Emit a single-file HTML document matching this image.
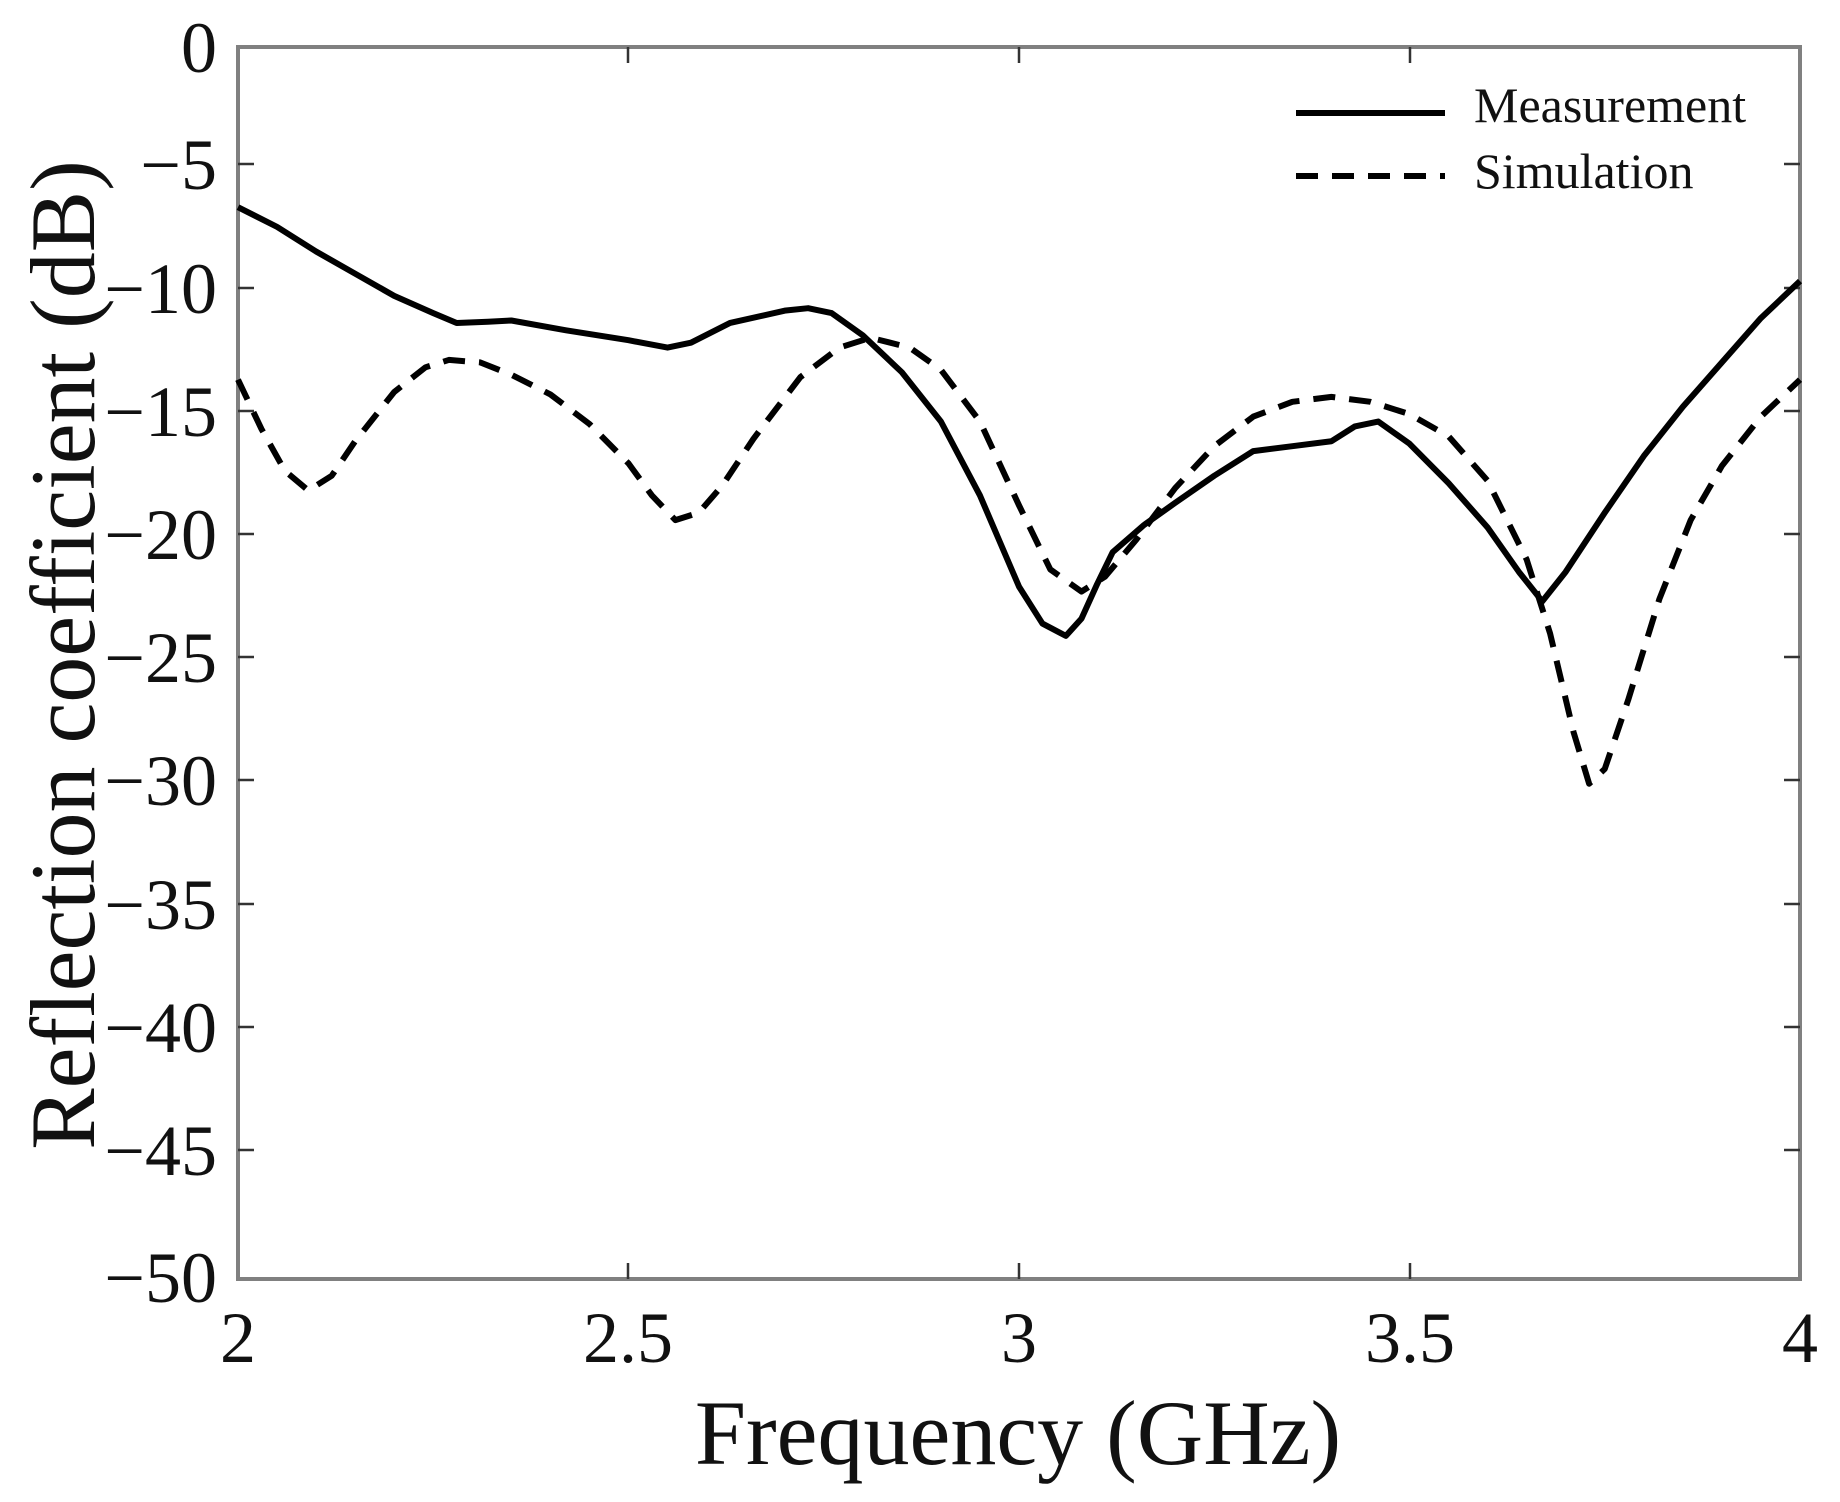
<!DOCTYPE html>
<html><head><style>body{margin:0;background:#fff}svg{display:block}</style></head><body>
<svg width="1840" height="1502" xmlns="http://www.w3.org/2000/svg" font-family="Liberation Serif, serif">
<rect x="238" y="47" width="1562" height="1232" fill="none" stroke="#808080" stroke-width="4"/>
<g stroke="#333" stroke-width="2.5">
<path d="M238 164h16M238 288h16M238 411h16M238 534h16M238 657h16M238 780h16M238 904h16M238 1027h16M238 1150h16"/>
<path d="M1800 164h-16M1800 288h-16M1800 411h-16M1800 534h-16M1800 657h-16M1800 780h-16M1800 904h-16M1800 1027h-16M1800 1150h-16"/>
<path d="M628 1279v-16M1019 1279v-16M1410 1279v-16M628 47v16M1019 47v16M1410 47v16"/>
</g>
<g font-size="72" text-anchor="end" fill="#111">
<text x="217" y="72">0</text><text x="217" y="189">−5</text><text x="217" y="313">−10</text><text x="217" y="436">−15</text><text x="217" y="559">−20</text><text x="217" y="682">−25</text><text x="217" y="805">−30</text><text x="217" y="929">−35</text><text x="217" y="1052">−40</text><text x="217" y="1175">−45</text><text x="217" y="1302">−50</text>
</g>
<g font-size="72" text-anchor="middle" fill="#111">
<text x="238" y="1362">2</text><text x="628" y="1362">2.5</text><text x="1019" y="1362">3</text><text x="1410" y="1362">3.5</text><text x="1800" y="1362">4</text>
</g>
<text x="1018" y="1464" font-size="92" text-anchor="middle" fill="#111">Frequency (GHz)</text>
<text transform="translate(94,655) rotate(-90)" font-size="92" text-anchor="middle" fill="#111">Reflection coefficient (dB)</text>
<g transform="matrix(781 0 0 -24.64 -1324 47)" fill="none" stroke="#000" stroke-linejoin="round">
<polyline vector-effect="non-scaling-stroke" stroke-width="6" points="2,-6.5 2.05,-7.3 2.1,-8.3 2.15,-9.2 2.2,-10.1 2.25,-10.8 2.28,-11.2 2.32,-11.15 2.35,-11.1 2.42,-11.5 2.5,-11.9 2.55,-12.2 2.58,-12.0 2.63,-11.2 2.7,-10.7 2.73,-10.6 2.76,-10.8 2.8,-11.7 2.85,-13.2 2.9,-15.2 2.95,-18.2 3.0,-21.9 3.03,-23.4 3.06,-23.9 3.08,-23.2 3.1,-21.8 3.12,-20.5 3.16,-19.4 3.2,-18.5 3.25,-17.4 3.3,-16.4 3.35,-16.2 3.4,-16.0 3.43,-15.4 3.46,-15.2 3.5,-16.1 3.55,-17.7 3.6,-19.5 3.64,-21.3 3.67,-22.5 3.7,-21.3 3.75,-18.9 3.8,-16.6 3.85,-14.6 3.9,-12.8 3.95,-11.0 4.0,-9.5"/>
<polyline vector-effect="non-scaling-stroke" stroke-width="6" stroke-dasharray="22 14" points="2,-13.5 2.03,-15.5 2.06,-17.2 2.09,-18.0 2.12,-17.4 2.15,-16.0 2.2,-14.0 2.24,-13.0 2.27,-12.7 2.31,-12.8 2.35,-13.3 2.4,-14.1 2.45,-15.3 2.5,-16.9 2.53,-18.2 2.56,-19.2 2.59,-18.9 2.62,-17.8 2.66,-15.9 2.72,-13.4 2.77,-12.2 2.81,-11.8 2.86,-12.2 2.9,-13.1 2.95,-15.2 3.0,-18.6 3.04,-21.2 3.08,-22.1 3.11,-21.5 3.15,-20.0 3.2,-17.9 3.25,-16.2 3.3,-15.0 3.35,-14.4 3.4,-14.2 3.45,-14.4 3.5,-14.9 3.55,-15.8 3.6,-17.6 3.65,-20.8 3.68,-23.8 3.71,-27.8 3.73,-29.9 3.75,-29.3 3.78,-26.5 3.82,-22.4 3.86,-19.2 3.9,-17.0 3.95,-15.0 4.0,-13.5"/>
</g>
<line x1="1296" y1="113" x2="1445" y2="113" stroke="#000" stroke-width="6"/>
<line x1="1296" y1="176" x2="1445" y2="176" stroke="#000" stroke-width="6" stroke-dasharray="22 14"/>
<g font-size="50" fill="#111">
<text x="1474" y="122">Measurement</text>
<text x="1474" y="188">Simulation</text>
</g>
</svg>
</body></html>
